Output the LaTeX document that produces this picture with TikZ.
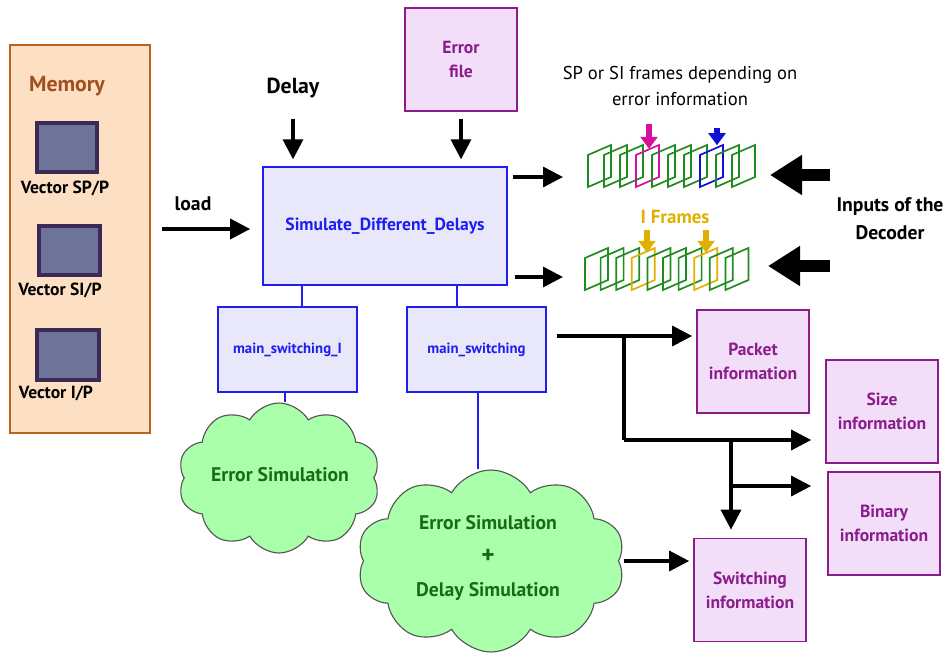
\documentclass[tikz,border=0pt]{standalone}
\usepackage{fontspec}
\setmainfont{PT Sans}
\usetikzlibrary{arrows.meta,shapes.symbols}

\definecolor{memfill}{HTML}{FDE0C4}
\definecolor{memline}{HTML}{B5651D}
\definecolor{memtext}{HTML}{A0501E}
\definecolor{vecfill}{HTML}{6E7499}
\definecolor{vecline}{HTML}{3C2A56}
\definecolor{blkfill}{HTML}{E8E8FA}
\definecolor{blkline}{HTML}{1E1EF0}
\definecolor{infofill}{HTML}{F3DEF9}
\definecolor{infoline}{HTML}{8B1C8B}
\definecolor{cloudfill}{HTML}{AAFFAA}
\definecolor{cloudline}{HTML}{555555}
\definecolor{cloudtext}{HTML}{1A6A1A}
\definecolor{frgreen}{HTML}{1E8C1E}
\definecolor{frpink}{HTML}{D4109C}
\definecolor{frblue}{HTML}{1010D0}
\definecolor{fryellow}{HTML}{E0B000}

\tikzset{
  arr/.style={line width=2.4pt,-{Triangle[length=0.5cm,width=0.5cm]}},
  fat/.style={line width=0.3cm,-{Triangle[length=0.8cm,width=0.95cm]}},
  tick/.style={line width=0.14cm,-{Triangle[length=0.3cm,width=0.42cm]}},
  blk/.style={draw=blkline,fill=blkfill,line width=1.2pt,text=blkline},
  info/.style={draw=infoline,fill=infofill,line width=1.2pt,text=infoline,
    font=\bfseries\fontsize{12.5}{17}\selectfont,align=center,
    minimum width=2.8cm,minimum height=2.575cm},
  vec/.style={draw=vecline,fill=vecfill,line width=3pt},
  lbl/.style={font=\bfseries\fontsize{12.5}{14}\selectfont},
  sim/.style={cloud,cloud puffs=10,cloud puff arc=120,cloud ignores aspect,
    draw=cloudline,fill=cloudfill,line width=0.8pt,inner sep=0pt},
  simtext/.style={text=cloudtext,font=\bfseries\fontsize{14}{24}\selectfont,align=center},
  frm/.style={line width=1.2pt}
}

\begin{document}
\begin{tikzpicture}
\useasboundingbox (0,0) rectangle (23.675,-16.4);

% memory with the stored vectors
\node[draw=memline,fill=memfill,line width=1.4pt,minimum width=3.5cm,minimum height=9.7cm] (mem) at (2.0,-5.975) {};
\node[text=memtext,font=\bfseries\fontsize{15.5}{18}\selectfont] (memtitle) at (1.675,-2.15) {Memory};
\node[vec,minimum width=1.5cm,minimum height=1.225cm] (vsp) at (1.675,-3.69) {};
\node[lbl] (vsplbl) at (1.625,-4.7) {Vector SP/P};
\node[vec,minimum width=1.525cm,minimum height=1.225cm] (vsi) at (1.7375,-6.26) {};
\node[lbl] (vsilbl) at (1.5,-7.25) {Vector SI/P};
\node[vec,minimum width=1.55cm,minimum height=1.25cm] (vi) at (1.7,-8.875) {};
\node[lbl] (vilbl) at (1.4,-9.825) {Vector I/P};

% main block and its inputs
\node[blk,minimum width=6.1cm,minimum height=2.95cm,font=\bfseries\fontsize{12.5}{15}\selectfont] (sim) at (9.625,-5.65) {Simulate\_Different\_Delays};
\node[font=\bfseries\fontsize{14}{16}\selectfont] (load) at (4.825,-5.1) {load};
\node[font=\bfseries\fontsize{15.5}{18}\selectfont] (dly) at (7.325,-2.2) {Delay};
\node[info] (err) at (11.525,-1.4875) {Error\\file};

\coordinate (ldin) at (4.05,-5.725);
\draw[arr,shorten >=0.3cm] (ldin) -- (ldin -| sim.west);
\draw[arr,shorten >=0.17cm] ([yshift=-0.4cm]dly.south) -- (dly.south |- sim.north);
\draw[arr,shorten >=0.17cm] ([yshift=-0.18cm]err.south) -- (err.south |- sim.north);

% frame sequences
\node[font=\fontsize{13.2}{18}\selectfont,align=center] (sptxt) at (17.0,-2.15) {SP or SI frames depending on\\error information};
\node[text=fryellow,font=\bfseries\fontsize{13.5}{15}\selectfont] (itxt) at (16.875,-5.425) {I Frames};

\foreach \i/\c in {0/frgreen,1/frgreen,2/frgreen,3/frpink,4/frgreen,5/frgreen,6/frgreen,7/frblue,8/frgreen,9/frgreen}
  \draw[frm,draw=\c] ({14.7+0.4*\i},-4.675) -- ++(0,0.8) -- ++(0.575,0.25) -- ++(0,-0.8) -- cycle;
\foreach \i/\c in {0/frgreen,1/frgreen,2/frgreen,3/fryellow,4/frgreen,5/frgreen,6/frgreen,7/fryellow,8/frgreen,9/frgreen}
  \draw[frm,draw=\c] ({14.625+0.39*\i},-7.25) -- ++(0,0.8) -- ++(0.575,0.25) -- ++(0,-0.8) -- cycle;

\draw[tick,draw=frpink] (16.225,-3.1) -- (16.225,-3.72);
\draw[tick,draw=frblue] (17.925,-3.2) -- (17.925,-3.63);
\draw[tick,draw=fryellow] (16.175,-5.75) -- (16.175,-6.32);
\draw[tick,draw=fryellow] (17.65,-5.75) -- (17.65,-6.32);

\coordinate (f1) at (14.075,-4.425);
\coordinate (f2) at (14.075,-6.925);
\draw[arr] ([xshift=0.12cm]sim.east |- f1) -- (f1);
\draw[arr] ([xshift=0.17cm]sim.east |- f2) -- (f2);

\node[align=center,font=\bfseries\fontsize{14}{20}\selectfont] (dec) at (22.25,-5.475) {Inputs of the\\Decoder};
\coordinate (in1) at (20.75,-4.375);
\coordinate (in2) at (20.75,-6.65);
\draw[fat] (in1) -- (19.25,-4.375);
\draw[fat] (in2) -- (19.2,-6.65);

% switching blocks
\node[blk,minimum width=3.475cm,minimum height=2.125cm,font=\bfseries\fontsize{10.5}{12}\selectfont] (msI) at (7.1875,-8.7375) {main\_switching\_I};
\node[blk,minimum width=3.475cm,minimum height=2.125cm,font=\bfseries\fontsize{10.5}{12}\selectfont] (ms) at (11.9125,-8.7375) {main\_switching};
\draw[blkline,line width=1.2pt] ([xshift=0.3625cm]msI.north) -- ([xshift=0.3625cm]msI.north |- sim.south);
\draw[blkline,line width=1.2pt] ([xshift=-0.4875cm]ms.north) -- ([xshift=-0.4875cm]ms.north |- sim.south);

% simulations
\node[sim,minimum width=5.05cm,minimum height=3.75cm] (cl1) at (6.975,-11.95) {};
\node[simtext] (cl1txt) at (7.0,-11.875) {Error Simulation};
\node[sim,minimum width=6.7cm,minimum height=4.55cm] (cl2) at (12.275,-14.025) {};
\node[simtext] (cl2txt) at (12.2,-13.95) {Error Simulation\\{\fontsize{18}{24}\selectfont +}\\Delay Simulation};
\draw[blkline,line width=1.2pt] ([xshift=-0.06cm]msI.south) -- ([xshift=-0.06cm]msI.south |- cl1.north);
\draw[blkline,line width=1.2pt] ([xshift=0.04cm]ms.south) -- ([xshift=0.04cm]ms.south |- cl2.north);

% information outputs
\node[info] (pkt) at (18.825,-9.0375) {Packet\\information};
\node[info] (size) at (22.05,-10.2875) {Size\\information};
\node[info] (bin) at (22.1,-13.0875) {Binary\\information};
\node[info] (sw) at (18.75,-14.75) {Switching\\information};

\coordinate (j1) at (15.6,-8.4);
\coordinate (j2) at (15.6,-11.0);
\coordinate (j3) at (18.275,-11.0);
\coordinate (j4) at (18.275,-12.15);
\draw[arr,shorten >=0.1cm] ([xshift=0.25cm]ms.east |- j1) -- (j1 -| pkt.west);
\draw[line width=2.4pt] (j1) -- (j2);
\draw[arr,shorten >=0.35cm] (j2) -- (j2 -| size.west);
\draw[arr,shorten >=0.2cm] (j3) -- (j3 |- sw.north);
\draw[arr,shorten >=0.4cm] (j4) -- (j4 -| bin.west);
\draw[arr,shorten >=0.1cm] ([xshift=0.12cm]cl2.east) -- (cl2.east -| sw.west);
\end{tikzpicture}
\end{document}
